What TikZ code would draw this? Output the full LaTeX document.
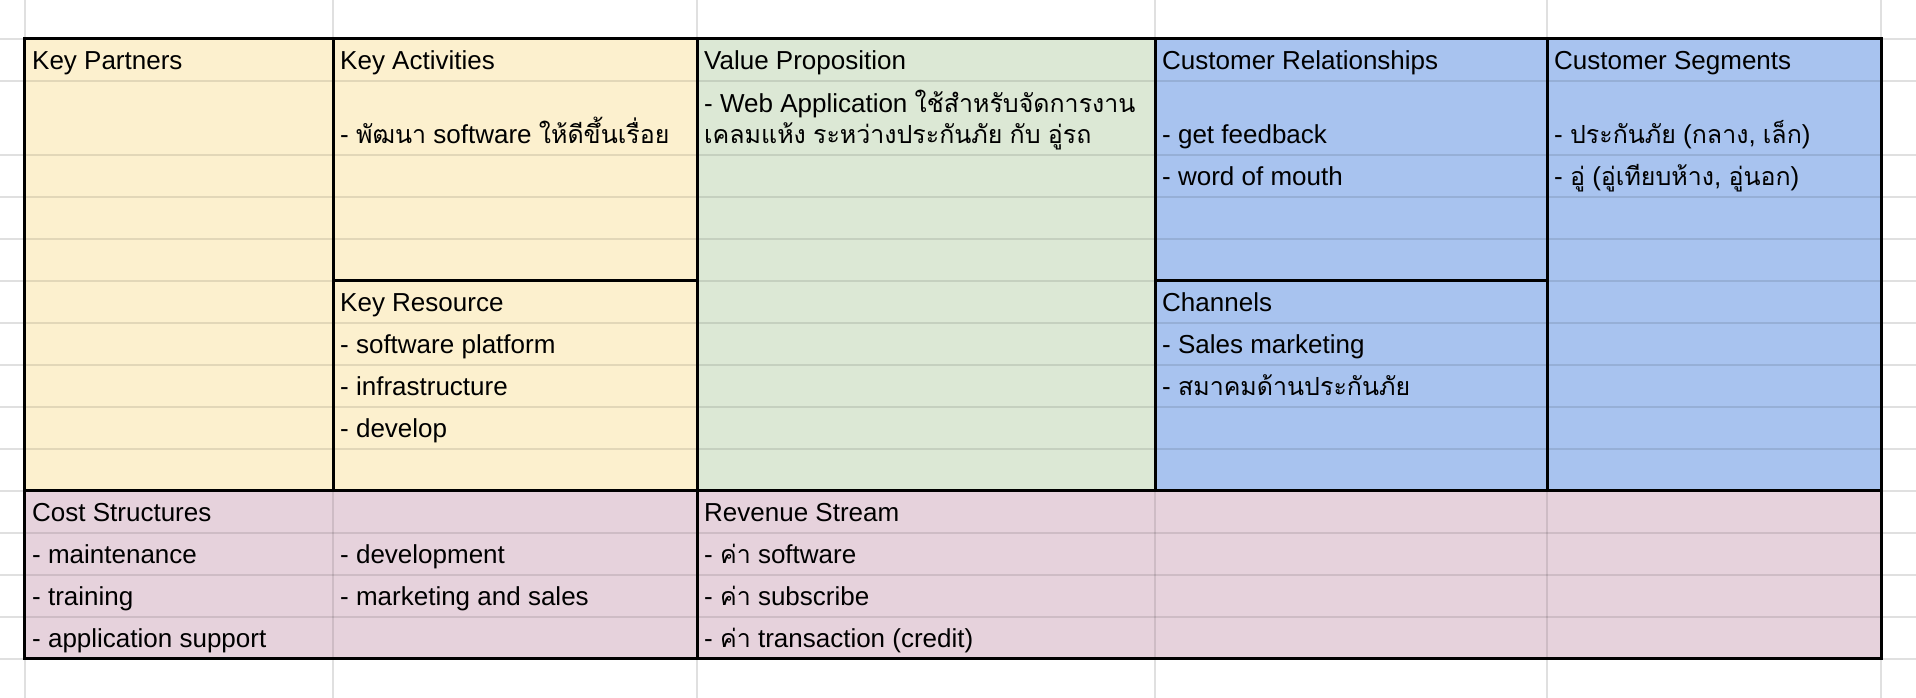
\documentclass[tikz,border=0pt]{standalone}
\usepackage{fontspec}
\setmainfont{Liberation Sans}
\newfontfamily\thaifont[Script=Thai,Scale=0.96]{Loma}
\newcommand{\thtext}[1]{{\thaifont #1}}
\definecolor{partyellow}{HTML}{FCF0CE}
\definecolor{valuegreen}{HTML}{DCE8D5}
\definecolor{custblue}{HTML}{A8C3EF}
\definecolor{costpink}{HTML}{E6D2DC}

\begin{document}
\begin{tikzpicture}[x=1pt,y=-1pt,
  cell/.style={anchor=base west, inner sep=0pt, font=\fontsize{26}{30}\selectfont},
  gridline/.style={line width=2pt, black, opacity=0.1},
  marginline/.style={line width=2pt, black!12},
  border/.style={line width=3pt, black}]
\useasboundingbox (0,0) rectangle (1916,698);
% Fills
\fill[partyellow] (24.5,39) rectangle (697,490.5);
\fill[valuegreen] (697,39) rectangle (1155,490.5);
\fill[custblue] (1155,39) rectangle (1881,490.5);
\fill[costpink] (24.5,490.5) rectangle (1881,658.7);
% Grid
\foreach \y in {80.7,155,196.7,238.7,280.7,322.7,365,406.7,448.5,532.7,574.7,616.7}
    \draw[gridline] (24.5,\y) -- (1881,\y);
\foreach \x in {333,1155,1547}
    \draw[gridline] (\x,490.5) -- (\x,658.7);
% Margins
\foreach \y in {39,80.7,155,196.7,238.7,280.7,322.7,365,406.7,448.5,490.5,532.7,574.7,616.7,658.7} {
    \draw[marginline] (0,\y) -- (24.5,\y);
    \draw[marginline] (1881,\y) -- (1916,\y);
}
\foreach \x in {24.5,333,697,1155,1547,1881} {
    \draw[marginline] (\x,0) -- (\x,39);
    \draw[marginline] (\x,658.7) -- (\x,698);
}
% Borders
\draw[border] (24.5,39) rectangle (1881,658.7);
\draw[border] (24.5,490.5) -- (1881,490.5);
\draw[border] (333,39) -- (333,490.5);
\draw[border] (697,39) -- (697,658.7);
\draw[border] (1155,39) -- (1155,490.5);
\draw[border] (1547,39) -- (1547,490.5);
\draw[border] (333,280.7) -- (697,280.7);
\draw[border] (1155,280.7) -- (1547,280.7);
% Key partners, activities, resources
\node[cell] (kp) at (32,69.2) {Key Partners};
\node[cell] (ka) at (340,69.2) {Key Activities};
\node[cell] (kaa) at (340,143) {- \thtext{พัฒนา} software \thtext{ให้ดีขึ้นเรื่อย}};
\node[cell] (kr) at (340,311.2) {Key Resource};
\node[cell] (kra) at (340,353.5) {- software platform};
\node[cell] (krb) at (340,395.2) {- infrastructure};
\node[cell] (krc) at (340,437) {- develop};
% Value proposition
\node[cell] (vp) at (704,69.2) {Value Proposition};
\node[cell] (vpa) at (704,112.5) {- Web Application \thtext{ใช้สำหรับจัดการงาน}};
\node[cell] (vpb) at (704,143) {\thtext{เคลมแห้ง} \thtext{ระหว่างประกันภัย} \thtext{กับ} \thtext{อู่รถ}};
% Customers
\node[cell] (cr) at (1162,69.2) {Customer Relationships};
\node[cell] (cra) at (1162,143) {- get feedback};
\node[cell] (crb) at (1162,185.2) {- word of mouth};
\node[cell] (ch) at (1162,311.2) {Channels};
\node[cell] (cha) at (1162,353.5) {- Sales marketing};
\node[cell] (chb) at (1162,395.2) {- \thtext{สมาคมด้านประกันภัย}};
\node[cell] (cs) at (1554,69.2) {Customer Segments};
\node[cell] (csa) at (1554,143) {- \thtext{ประกันภัย} (\thtext{กลาง}, \thtext{เล็ก})};
\node[cell] (csb) at (1554,185.2) {- \thtext{อู่} (\thtext{อู่เทียบห้าง}, \thtext{อู่นอก})};
% Cost and revenue
\node[cell] (cost) at (32,521.2) {Cost Structures};
\node[cell] (costa) at (32,563.2) {- maintenance};
\node[cell] (costb) at (32,605.2) {- training};
\node[cell] (costc) at (32,647.2) {- application support};
\node[cell] (costd) at (340,563.2) {- development};
\node[cell] (coste) at (340,605.2) {- marketing and sales};
\node[cell] (rs) at (704,521.2) {Revenue Stream};
\node[cell] (rsa) at (704,563.2) {- \thtext{ค่า} software};
\node[cell] (rsb) at (704,605.2) {- \thtext{ค่า} subscribe};
\node[cell] (rsc) at (704,647.2) {- \thtext{ค่า} transaction (credit)};
\end{tikzpicture}
\end{document}
